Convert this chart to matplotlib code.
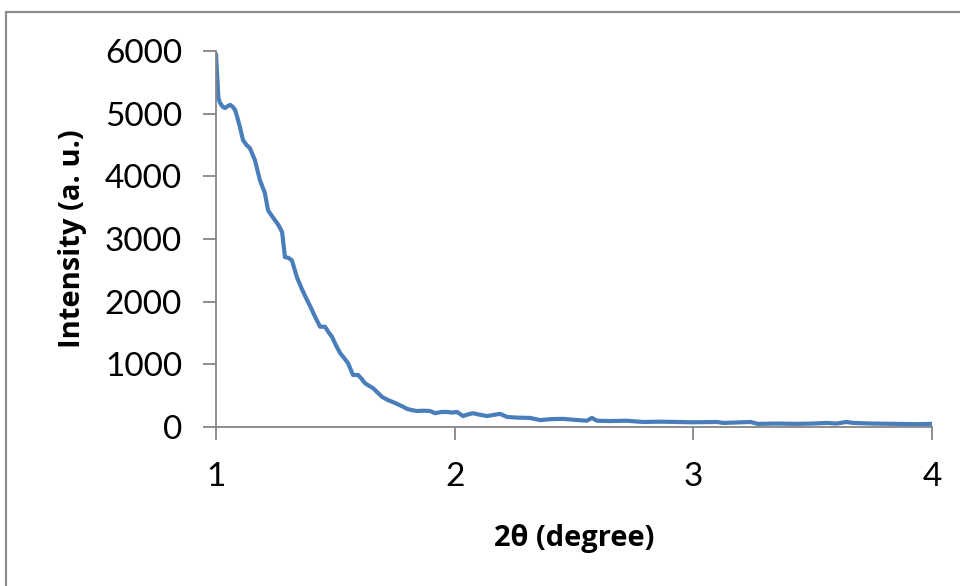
"""Low-angle XRD pattern: intensity vs 2theta."""

import matplotlib

matplotlib.use("Agg")
import matplotlib.pyplot as plt
from matplotlib.patches import Rectangle

plt.rcParams["font.family"] = ["Lato", "DejaVu Sans"]

# values
two_theta = [
    1.000, 1.005, 1.010, 1.017, 1.028, 1.038, 1.049, 1.059, 1.070, 1.080,
    1.090, 1.100, 1.113, 1.128, 1.142, 1.163, 1.184, 1.205, 1.218, 1.232,
    1.247, 1.262, 1.277, 1.289, 1.303, 1.318, 1.339, 1.360, 1.381, 1.398,
    1.415, 1.436, 1.457, 1.472, 1.486, 1.503, 1.520, 1.537, 1.553, 1.574,
    1.595, 1.610, 1.624, 1.640, 1.658, 1.677, 1.696, 1.720, 1.740, 1.758,
    1.780, 1.800, 1.820, 1.842, 1.870, 1.897, 1.918, 1.947, 1.968, 1.990,
    2.010, 2.035, 2.055, 2.077, 2.100, 2.135, 2.160, 2.190, 2.220, 2.260,
    2.316, 2.358, 2.400, 2.454, 2.500, 2.554, 2.575, 2.596, 2.650, 2.720,
    2.790, 2.860, 2.930, 3.000, 3.100, 3.125, 3.180, 3.240, 3.270, 3.350,
    3.430, 3.500, 3.560, 3.600, 3.640, 3.670, 3.750, 3.850, 3.930, 4.000,
]
intensity = [
    5950, 5600, 5250, 5170, 5110, 5090, 5120, 5140, 5110, 5060,
    4930, 4790, 4580, 4500, 4450, 4260, 3940, 3730, 3460, 3380,
    3300, 3220, 3110, 2710, 2700, 2660, 2390, 2200, 2030, 1900,
    1760, 1600, 1600, 1510, 1440, 1300, 1180, 1100, 1020, 830,
    830, 770, 700, 660, 620, 550, 480, 430, 400, 370,
    330, 290, 270, 255, 260, 255, 220, 240, 240, 230,
    240, 175, 200, 220, 200, 175, 190, 210, 160, 150,
    145, 110, 125, 130, 115, 100, 145, 100, 95, 100,
    80, 85, 80, 75, 80, 65, 72, 80, 50, 55,
    50, 55, 65, 55, 80, 65, 55, 50, 45, 50,
]
x_ticks = [1, 2, 3, 4]
y_ticks = [0, 1000, 2000, 3000, 4000, 5000, 6000]

fig = plt.figure(figsize=(9.6, 5.86), dpi=100)
ax = fig.add_axes([216 / 960, 1 - 427 / 586, (932 - 216) / 960, (427 - 51) / 586])

ax.plot(two_theta, intensity, color="#4a7ebb", lw=3.0,
        solid_joinstyle="round", solid_capstyle="round")

ax.set_xlim(1, 4)
ax.set_ylim(0, 6000)
ax.set_xticks(x_ticks)
ax.set_yticks(y_ticks)

axis_grey = "#868686"
for side in ("top", "right"):
    ax.spines[side].set_visible(False)
for side in ("left", "bottom"):
    ax.spines[side].set_color(axis_grey)
    ax.spines[side].set_linewidth(1.3)

ax.tick_params(axis="x", direction="out", length=9.5, width=1.3, color=axis_grey,
               labelsize=24, pad=16)
ax.tick_params(axis="y", direction="out", length=9.5, width=1.3, color=axis_grey,
               labelsize=24, pad=15)

label_font = {"family": ["Open Sans", "DejaVu Sans"], "fontsize": 21, "fontweight": "bold"}
ax.set_xlabel("2θ (degree)", labelpad=23, **label_font)
ax.set_ylabel("Intensity (a. u.)", labelpad=13, **label_font)

# chart-area frame, cut off at the right and bottom like the source image
fig.patches.append(Rectangle((6 / 960, -0.05), 1.1, 1.05 - 12 / 586,
                             transform=fig.transFigure, fill=False,
                             edgecolor="#8c8c8c", linewidth=1.6))

fig.savefig("out.png", dpi=100)
plt.close(fig)
